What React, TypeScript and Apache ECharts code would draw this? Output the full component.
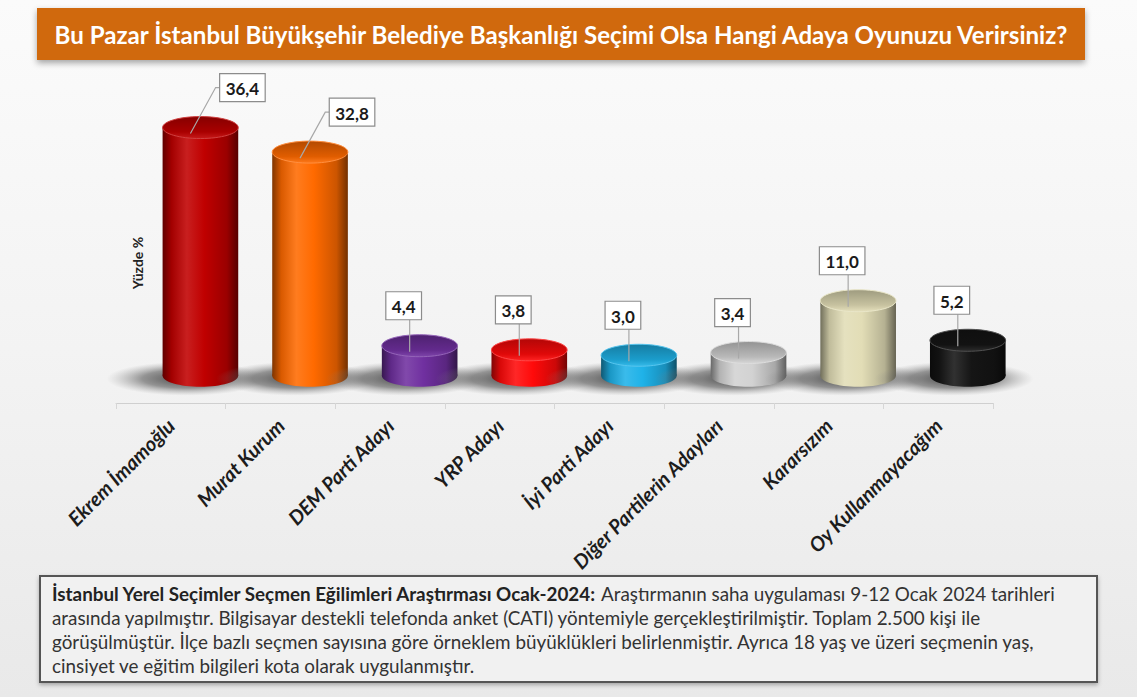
import React, { useEffect, useRef } from "react";
import * as echarts from "echarts";

const TITLE = "Bu Pazar İstanbul Büyükşehir Belediye Başkanlığı Seçimi Olsa Hangi Adaya Oyunuzu Verirsiniz?";
const Y_NAME = "Yüzde %";
const categories = [
  "Ekrem İmamoğlu",
  "Murat Kurum",
  "DEM Parti Adayı",
  "YRP Adayı",
  "İyi Parti Adayı",
  "Diğer Partilerin Adayları",
  "Kararsızım",
  "Oy Kullanmayacağım",
];
const values = [36.4, 32.8, 4.4, 3.8, 3.0, 3.4, 11.0, 5.2];
const palette = ["#c00000", "#ff6a00", "#7030a0", "#ff0a0a", "#1fb2e8", "#d2d2d2", "#e2ddb6", "#151515"];
const NOTE_BOLD = "İstanbul Yerel Seçimler Seçmen Eğilimleri Araştırması Ocak-2024:";
const NOTE_LINES = [
  " Araştırmanın saha uygulaması 9-12 Ocak 2024 tarihleri",
  "arasında yapılmıştır. Bilgisayar destekli telefonda anket (CATI) yöntemiyle gerçekleştirilmiştir. Toplam 2.500 kişi ile",
  "görüşülmüştür. İlçe bazlı seçmen sayısına göre örneklem büyüklükleri belirlenmiştir. Ayrıca 18 yaş ve üzeri seçmenin yaş,",
  "cinsiyet ve eğitim bilgileri kota olarak uygulanmıştır.",
];

const FONT = 'Lato, "Open Sans", sans-serif';

function measure(text: string, weight: string, size: number, style = "normal") {
  const c = document.createElement("canvas");
  const ctx = c.getContext("2d")!;
  ctx.font = `${style} ${weight} ${size}px ${FONT}`;
  return ctx.measureText(text).width;
}

function shade(hex: string, t: number) {
  const n = parseInt(hex.slice(1), 16);
  let r = (n >> 16) & 255, g = (n >> 8) & 255, b = n & 255;
  const target = t > 0 ? 255 : 0;
  const k = Math.abs(t);
  r = Math.round(r + (target - r) * k);
  g = Math.round(g + (target - g) * k);
  b = Math.round(b + (target - b) * k);
  return `rgb(${r},${g},${b})`;
}

const fmt = (v: number) => v.toFixed(1).replace(".", ",");

export default function App() {
  const ref = useRef<HTMLDivElement>(null);
  useEffect(() => {
    if (!ref.current) return;
    const chart = echarts.init(ref.current, null, { renderer: "svg" });

    const titleSize = 20 * 1016 / measure(TITLE, "bold", 20);
    const l1w = measure(NOTE_BOLD, "bold", 20) + measure(NOTE_LINES[0], "normal", 20);
    const noteSize = 20 * 1004 / l1w;

    const renderItem = (params: any, api: any) => {
      const idx = params.dataIndex;
      const v = api.value(1);
      const top = api.coord([api.value(0), v]);
      const base = api.coord([api.value(0), 0]);
      const band = api.size([1, 0])[0];
      const cx = top[0] + band * 0.27;
      const w = band * 0.69;
      const rx = w / 2;
      const ry = 11;
      const c = palette[idx];
      const grad = () =>
        new echarts.graphic.LinearGradient(0, 0, 1, 0, [
          { offset: 0, color: shade(c, -0.5) },
          { offset: 0.12, color: shade(c, -0.15) },
          { offset: 0.32, color: shade(c, 0.12) },
          { offset: 0.55, color: c },
          { offset: 0.85, color: shade(c, -0.2) },
          { offset: 1, color: shade(c, -0.55) },
        ]);
      const topGrad = new echarts.graphic.LinearGradient(0, 0, 0, 1, [
        { offset: 0, color: shade(c, -0.3) },
        { offset: 0.7, color: shade(c, -0.12) },
        { offset: 1, color: shade(c, 0.1) },
      ]);
      const shadowGrad = new echarts.graphic.RadialGradient(0.5, 0.5, 0.5, [
        { offset: 0, color: "rgba(40,40,40,0.85)" },
        { offset: 0.55, color: "rgba(70,70,70,0.55)" },
        { offset: 1, color: "rgba(140,140,140,0)" },
      ]);
      const text = fmt(v);
      const fs = 17;
      const tw = measure(text, "bold", fs) + 12;
      const th = 28;
      const bcx = cx + (v > 20 ? 42 : -16);
      const bcy = top[1] - 40;
      const bl = bcx - tw / 2;
      const bb = bcy + th / 2;
      const anchor = [cx - 10, top[1] + 6];
      const pts = anchor[0] < bl - 4
        ? [anchor, [bl - 4, bcy], [bl, bcy]]
        : [anchor, [anchor[0], bb]];
      return {
        type: "group",
        children: [
          {
            type: "ellipse",
            shape: { cx: cx - 14, cy: base[1] + 3, rx: rx + 42, ry: 17 },
            style: { fill: shadowGrad },
            silent: true,
          },
          { type: "ellipse", shape: { cx, cy: base[1], rx, ry }, style: { fill: grad() } },
          {
            type: "rect",
            shape: { x: cx - rx, y: top[1], width: w, height: base[1] - top[1] },
            style: { fill: grad() },
          },
          {
            type: "ellipse",
            shape: { cx, cy: top[1], rx, ry },
            style: { fill: topGrad, stroke: shade(c, 0.25), lineWidth: 1 },
          },
          {
            type: "polyline",
            shape: { points: pts },
            style: { stroke: "#a8a8a8", lineWidth: 1.2, fill: null },
          },
          {
            type: "rect",
            shape: { x: bl, y: bcy - th / 2, width: tw, height: th },
            style: { fill: "#ffffff", stroke: "#8c8c8c", lineWidth: 1.2 },
          },
          {
            type: "text",
            x: bcx,
            y: bcy + 1,
            style: {
              text,
              fill: "#1a1a1a",
              fontSize: fs,
              fontWeight: "bold",
              fontFamily: FONT,
              align: "center",
              verticalAlign: "middle",
            },
          },
        ],
      };
    };

    const noteY = [593, 617, 641, 665];
    const noteTexts: any[] = NOTE_LINES.map((line, i) => ({
      type: "text",
      x: 52,
      y: noteY[i],
      style: i === 0
        ? {
            text: `{b|${NOTE_BOLD}}{n|${line}}`,
            verticalAlign: "middle",
            rich: {
              b: { fontWeight: "bold", fontSize: noteSize, fontFamily: FONT, fill: "#222" },
              n: { fontWeight: "normal", fontSize: noteSize, fontFamily: FONT, fill: "#333" },
            },
          }
        : {
            text: line,
            fill: "#333",
            fontSize: noteSize,
            fontFamily: FONT,
            verticalAlign: "middle",
          },
    }));

    const option: any = {
      animation: false,
      backgroundColor: new echarts.graphic.LinearGradient(0, 0, 0, 1, [
        { offset: 0, color: "#fbfbfb" },
        { offset: 0.5, color: "#f3f3f3" },
        { offset: 1, color: "#e9e9e9" },
      ]),
      grid: { left: 116, right: 144, top: 103, bottom: 294 },
      xAxis: {
        type: "category",
        data: categories,
        axisLine: { onZero: false, lineStyle: { color: "#cfcfcf", width: 1 } },
        axisTick: { show: true, length: 6, lineStyle: { color: "#d6d6d6" } },
        axisLabel: {
          interval: 0,
          rotate: 45,
          margin: 19,
          fontSize: 20,
          fontWeight: "bold",
          fontStyle: "italic",
          fontFamily: FONT,
          color: "#1c1c1c",
        },
      },
      yAxis: { type: "value", min: -4, max: 40, show: false },
      series: [
        {
          type: "custom",
          renderItem,
          data: values.map((v, i) => [i, v]),
          z: 3,
        },
      ],
      graphic: [
        {
          type: "rect",
          shape: { x: 37, y: 8, width: 1048, height: 52 },
          style: { fill: "#d0690f", shadowBlur: 6, shadowOffsetY: 3, shadowColor: "rgba(0,0,0,0.35)" },
        },
        {
          type: "text",
          x: 561,
          y: 34,
          style: {
            text: TITLE,
            fill: "#ffffff",
            fontSize: titleSize,
            fontWeight: "bold",
            fontFamily: FONT,
            align: "center",
            verticalAlign: "middle",
          },
        },
        {
          type: "text",
          x: 137,
          y: 263,
          rotation: Math.PI / 2,
          style: {
            text: Y_NAME,
            fill: "#222",
            fontSize: 14,
            fontWeight: "bold",
            fontFamily: FONT,
            align: "center",
            verticalAlign: "middle",
          },
        },
        {
          type: "rect",
          shape: { x: 40, y: 576, width: 1057, height: 106 },
          style: {
            fill: "#f1f1f1",
            stroke: "#555555",
            lineWidth: 2,
            shadowBlur: 4,
            shadowOffsetY: 2,
            shadowColor: "rgba(0,0,0,0.3)",
          },
        },
        ...noteTexts,
      ],
    };
    chart.setOption(option);
    return () => chart.dispose();
  }, []);
  return (
    <div
      ref={ref}
      style={{ position: "fixed", left: 0, top: 0, width: 1137, height: 697 }}
    />
  );
}
